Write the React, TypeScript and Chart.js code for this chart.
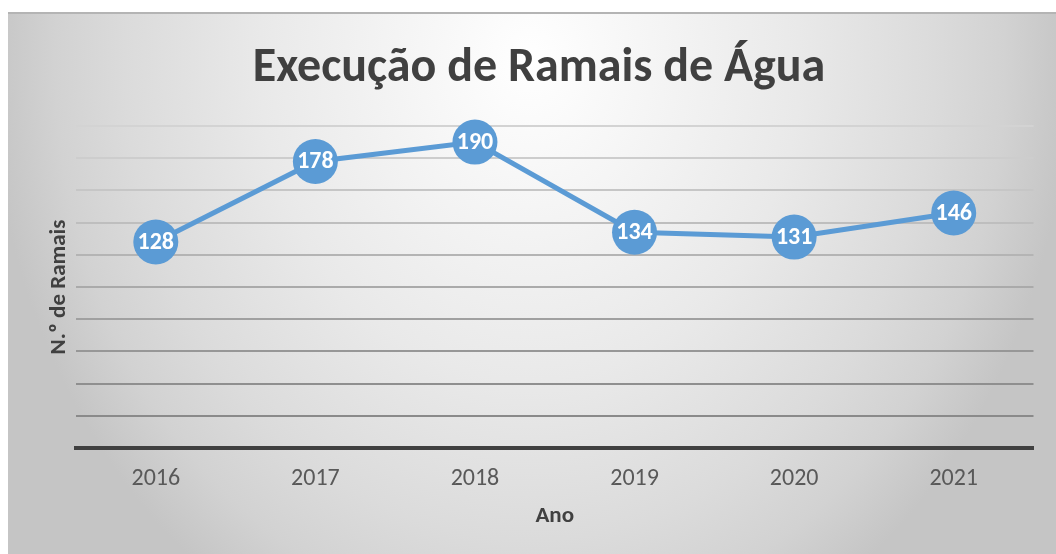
import React, { useEffect, useRef } from "react";
import { Chart, registerables } from "chart.js";

Chart.register(...registerables);

const title = "Execução de Ramais de Água";
const xTitle = "Ano";
const yTitle = "N.º de Ramais";
const years = ["2016", "2017", "2018", "2019", "2020", "2021"];
const ramais = [128, 178, 190, 134, 131, 146];
const yMin = 0;
const yMax = 200;
const yStep = 20;

const FONT = "Carlito, 'Open Sans', sans-serif";
const BLUE = "#5b9bd5";
// grid colours from value 0 (hidden, axis line) upwards to 200
const gridColors = [
  "rgba(0,0,0,0)",
  "#8a8a8a",
  "#8f8f8f",
  "#979797",
  "#a0a0a0",
  "#aaaaaa",
  "#b4b4b4",
  "#bebebe",
  "#c6c6c6",
  "#cdcdcd",
  "#d3d3d3",
];

const bgPlugin = {
  id: "bg",
  beforeDraw(chart: any) {
    const { ctx, width, height } = chart;
    ctx.save();
    ctx.fillStyle = "#ffffff";
    ctx.fillRect(0, 0, width, height);
    const x0 = 8;
    const y0 = 13;
    const cx = 530;
    const cy = 60;
    const rx = 540;
    const ry = 640;
    ctx.save();
    ctx.beginPath();
    ctx.rect(x0, y0, width - x0, height - y0);
    ctx.clip();
    ctx.translate(cx, cy);
    ctx.scale(1, ry / rx);
    const g = ctx.createRadialGradient(0, 0, 0, 0, 0, rx);
    g.addColorStop(0, "#ffffff");
    g.addColorStop(0.5, "#e9e9e9");
    g.addColorStop(0.75, "#dbdbdb");
    g.addColorStop(0.88, "#d2d2d2");
    g.addColorStop(1, "#c5c5c5");
    ctx.fillStyle = g;
    ctx.fillRect(-cx, -cy * rx / ry - 10, width + 20, (height + 20) * rx / ry + 20);
    ctx.restore();
    ctx.strokeStyle = "#b4b4b4";
    ctx.lineWidth = 2;
    ctx.beginPath();
    ctx.moveTo(x0, y0);
    ctx.lineTo(width, y0);
    ctx.stroke();
    ctx.restore();
  },
  afterDraw(chart: any) {
    const { ctx } = chart;
    ctx.save();
    ctx.fillStyle = "#404040";
    ctx.font = `bold 48px ${FONT}`;
    ctx.textAlign = "center";
    ctx.textBaseline = "alphabetic";
    ctx.fillText(title, 539, 81);
    ctx.restore();
  },
};

const labelPlugin = {
  id: "pointLabels",
  afterDatasetsDraw(chart: any) {
    const { ctx } = chart;
    const meta = chart.getDatasetMeta(0);
    ctx.save();
    ctx.fillStyle = "#ffffff";
    ctx.font = `bold 24px ${FONT}`;
    ctx.textAlign = "center";
    ctx.textBaseline = "middle";
    meta.data.forEach((pt: any, i: number) => {
      ctx.fillText(String(ramais[i]), pt.x, pt.y + 1);
    });
    ctx.restore();
  },
};

export default function App() {
  const ref = useRef<HTMLCanvasElement>(null);
  useEffect(() => {
    document.body.style.margin = "0";
    const chart = new Chart(ref.current!, {
      type: "line",
      data: {
        labels: years,
        datasets: [
          {
            data: ramais,
            borderColor: BLUE,
            borderWidth: 5,
            backgroundColor: BLUE,
            pointBackgroundColor: BLUE,
            pointBorderWidth: 0,
            pointRadius: 22.5,
            pointHoverRadius: 22.5,
            tension: 0,
            clip: false as any,
          },
        ],
      },
      options: {
        responsive: false,
        animation: false,
        events: [],
        layout: { padding: { top: 126, right: 17, left: 0, bottom: 0 } },
        plugins: {
          legend: { display: false },
          title: { display: false },
          tooltip: { enabled: false },
        },
        scales: {
          x: {
            offset: true,
            grid: { display: false, drawTicks: false },
            border: { display: true, color: "#404040", width: 4 },
            ticks: {
              color: "#595959",
              font: { family: FONT, size: 24 },
              padding: 17,
            },
            title: {
              display: true,
              text: xTitle,
              color: "#404040",
              font: { family: FONT, size: 23, weight: "bold" },
              padding: { top: 0, bottom: 24 },
            },
            afterFit(scale: any) {
              scale.height = 106;
            },
          },
          y: {
            min: yMin,
            max: yMax,
            ticks: { stepSize: yStep, display: false },
            grid: {
              color: gridColors,
              lineWidth: 2,
              drawTicks: false,
            },
            border: { display: false },
            title: {
              display: true,
              text: yTitle,
              color: "#404040",
              font: { family: FONT, size: 23, weight: "bold" },
              padding: { top: 45, bottom: 0 },
            },
            afterFit(scale: any) {
              scale.width = 76;
            },
          },
        },
      },
      plugins: [bgPlugin, labelPlugin],
    });
    return () => chart.destroy();
  }, []);
  return (
    <div style={{ position: "absolute", left: 0, top: 0, width: 1056, height: 554 }}>
      <canvas ref={ref} width={1056} height={554} style={{ display: "block" }} />
    </div>
  );
}
